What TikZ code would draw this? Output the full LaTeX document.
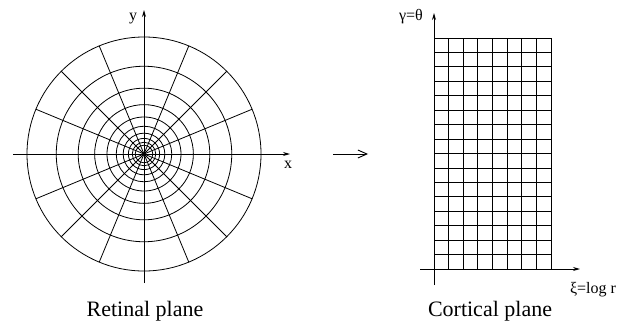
\documentclass[tikz,border=0pt]{standalone}
\usepackage{fontspec}
\setmainfont{Liberation Serif}
\usetikzlibrary{arrows.meta,positioning}
\tikzstyle{grd}=[line width=0.8pt]
\tikzstyle{axis}=[line width=0.9pt, -{Stealth[length=7pt,width=4pt]}]
\tikzstyle{map}=[line width=0.9pt, -{Straight Barb[length=9pt,width=8pt]}]
\tikzstyle{lbl}=[font=\fontsize{16}{18}\selectfont, inner sep=0pt]
\tikzstyle{title}=[font=\fontsize{22}{26}\selectfont, inner sep=0pt]

\begin{document}
\begin{tikzpicture}[x=1pt, y=1pt]
        \useasboundingbox (0,0) rectangle (631,325);

        % retinal plane
        \coordinate (c) at (144,171);
        \foreach \k in {0,...,9}
            \draw[grd] (c) circle ({117*0.75^\k});
        \foreach \a in {0,22.5,...,337.5}
            \draw[grd] (c) -- ++(\a:117);
        \coordinate (xl) at (13,171);
        \coordinate (xr) at (290,171);
        \coordinate (yb) at (144,42);
        \coordinate (yt) at (144,315);
        \draw[axis] (xl) -- (xr);
        \draw[axis] (yb) -- (yt);
        \node[lbl] (ylab) at (133,306) {y};
        \node[lbl] (xlab) at (288,160) {x};
        \node[title] (retina) at (145,14) {Retinal plane};

        % mapping
        \coordinate (m0) at (333,171);
        \coordinate (m1) at (368,171);
        \draw[map] (m0) -- (m1);

        % cortical plane
        \coordinate (o) at (434,56);
        \begin{scope}[shift={(o)}]
            \foreach \i in {0,...,8}
                \draw[grd] (\i*14.625,0) -- (\i*14.625,231);
            \foreach \j in {0,...,16}
                \draw[grd] (0,\j*14.4375) -- (117,\j*14.4375);
        \end{scope}
        \coordinate (hl) at (420,56);
        \coordinate (hr) at (580,56);
        \coordinate (vb) at (434,40);
        \coordinate (vt) at (434,312);
        \draw[axis] (hl) -- (hr);
        \draw[axis] (vb) -- (vt);
        \node[lbl] (glab) at (411,308) {γ=θ};
        \node[lbl] (xilab) at (593,35) {ξ=log r};
        \node[title] (cortex) at (490,14) {Cortical plane};
    \end{tikzpicture}
\end{document}
